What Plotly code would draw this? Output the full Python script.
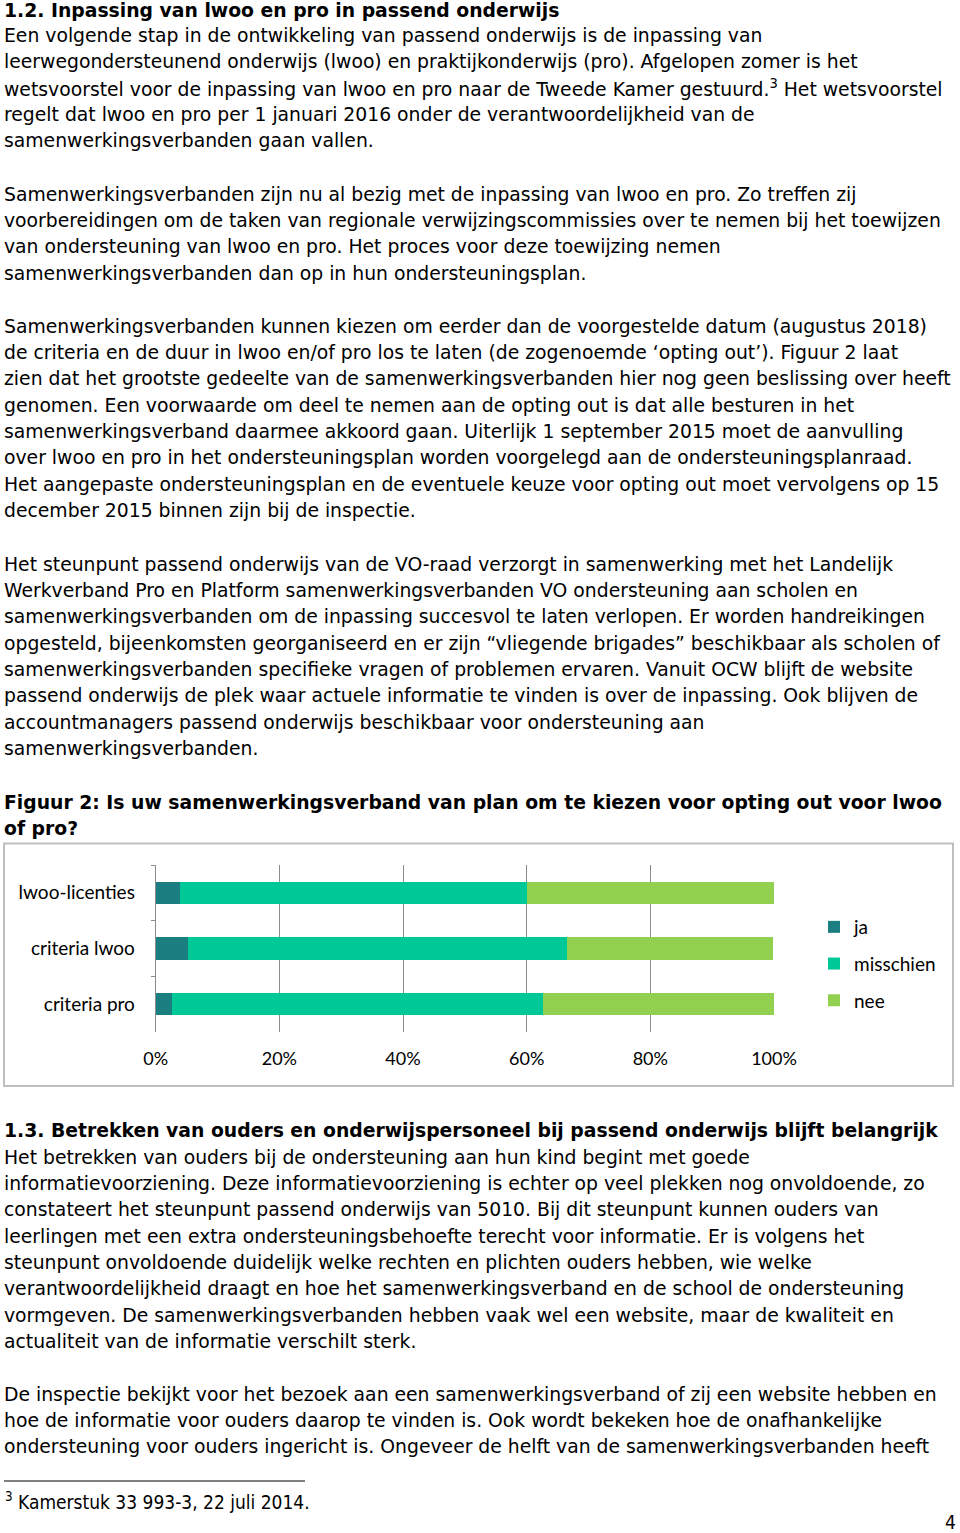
import plotly.graph_objects as go

W, H = 960, 1533

# chart data (share of samenwerkingsverbanden, n = 75)
categories = ["lwoo-licenties", "criteria lwoo", "criteria pro"]
ja = [0.040, 0.053, 0.027]
misschien = [0.560, 0.613, 0.600]
nee = [0.400, 0.333, 0.373]
series_names = ["ja", "misschien", "nee"]
series_colors = ["#1b7e80", "#00c896", "#92d050"]
x_ticks = [0, 0.2, 0.4, 0.6, 0.8, 1.0]
x_tick_labels = ["0%", "20%", "40%", "60%", "80%", "100%"]

# page text, blocks of (first line centre y, bold, lines)
block_top = [
    (10, True, ["1.2. Inpassing van lwoo en pro in passend onderwijs"]),
    (35.5, False, [
        "Een volgende stap in de ontwikkeling van passend onderwijs is de inpassing van",
        "leerwegondersteunend onderwijs (lwoo) en praktijkonderwijs (pro). Afgelopen zomer is het",
        "wetsvoorstel voor de inpassing van lwoo en pro naar de Tweede Kamer gestuurd.<sup>3</sup> Het wetsvoorstel",
        "regelt dat lwoo en pro per 1 januari 2016 onder de verantwoordelijkheid van de",
        "samenwerkingsverbanden gaan vallen.",
    ]),
    (194, False, [
        "Samenwerkingsverbanden zijn nu al bezig met de inpassing van lwoo en pro. Zo treffen zij",
        "voorbereidingen om de taken van regionale verwijzingscommissies over te nemen bij het toewijzen",
        "van ondersteuning van lwoo en pro. Het proces voor deze toewijzing nemen",
        "samenwerkingsverbanden dan op in hun ondersteuningsplan.",
    ]),
    (326, False, [
        "Samenwerkingsverbanden kunnen kiezen om eerder dan de voorgestelde datum (augustus 2018)",
        "de criteria en de duur in lwoo en/of pro los te laten (de zogenoemde \u2018opting out\u2019). Figuur 2 laat",
        "zien dat het grootste gedeelte van de samenwerkingsverbanden hier nog geen beslissing over heeft",
        "genomen. Een voorwaarde om deel te nemen aan de opting out is dat alle besturen in het",
        "samenwerkingsverband daarmee akkoord gaan. Uiterlijk 1 september 2015 moet de aanvulling",
        "over lwoo en pro in het ondersteuningsplan worden voorgelegd aan de ondersteuningsplanraad.",
        "Het aangepaste ondersteuningsplan en de eventuele keuze voor opting out moet vervolgens op 15",
        "december 2015 binnen zijn bij de inspectie.",
    ]),
    (564, False, [
        "Het steunpunt passend onderwijs van de VO-raad verzorgt in samenwerking met het Landelijk",
        "Werkverband Pro en Platform samenwerkingsverbanden VO ondersteuning aan scholen en",
        "samenwerkingsverbanden om de inpassing succesvol te laten verlopen. Er worden handreikingen",
        "opgesteld, bijeenkomsten georganiseerd en er zijn \u201cvliegende brigades\u201d beschikbaar als scholen of",
        "samenwerkingsverbanden specifieke vragen of problemen ervaren. Vanuit OCW blijft de website",
        "passend onderwijs de plek waar actuele informatie te vinden is over de inpassing. Ook blijven de",
        "accountmanagers passend onderwijs beschikbaar voor ondersteuning aan",
        "samenwerkingsverbanden.",
    ]),
    (802, True, [
        "Figuur 2: Is uw samenwerkingsverband van plan om te kiezen voor opting out voor lwoo",
        "of pro?",
    ]),
    (1130, True, ["1.3. Betrekken van ouders en onderwijspersoneel bij passend onderwijs blijft belangrijk"]),
    (1157, False, [
        "Het betrekken van ouders bij de ondersteuning aan hun kind begint met goede",
        "informatievoorziening. Deze informatievoorziening is echter op veel plekken nog onvoldoende, zo",
        "constateert het steunpunt passend onderwijs van 5010. Bij dit steunpunt kunnen ouders van",
        "leerlingen met een extra ondersteuningsbehoefte terecht voor informatie. Er is volgens het",
        "steunpunt onvoldoende duidelijk welke rechten en plichten ouders hebben, wie welke",
        "verantwoordelijkheid draagt en hoe het samenwerkingsverband en de school de ondersteuning",
        "vormgeven. De samenwerkingsverbanden hebben vaak wel een website, maar de kwaliteit en",
        "actualiteit van de informatie verschilt sterk.",
    ]),
    (1394, False, [
        "De inspectie bekijkt voor het bezoek aan een samenwerkingsverband of zij een website hebben en",
        "hoe de informatie voor ouders daarop te vinden is. Ook wordt bekeken hoe de onafhankelijke",
        "ondersteuning voor ouders ingericht is. Ongeveer de helft van de samenwerkingsverbanden heeft",
    ]),
]
footnote = "<sup>3</sup> Kamerstuk 33 993-3, 22 juli 2014."
page_number = "4"

LINE = 26.37


def px(x):
    return x / W


def py(y):
    return 1 - y / H


fig = go.Figure()
for name, vals, col in zip(series_names, [ja, misschien, nee], series_colors):
    fig.add_trace(go.Bar(
        y=categories, x=vals, name=name, orientation="h",
        marker=dict(color=col, line=dict(width=0)),
        legendgroup=name,
    ))

annotations = []
for y0, bold, lines in block_top:
    for i, t in enumerate(lines):
        annotations.append(dict(
            text="<b>%s</b>" % t if bold else t,
            x=px(2), y=py(y0 + i * LINE), xref="paper", yref="paper",
            xanchor="left", yanchor="middle", showarrow=False,
            font=dict(family="DejaVu Sans", size=18.8, color="#000000"),
        ))
annotations.append(dict(
    text=footnote, x=px(3), y=py(1501), xref="paper", yref="paper",
    xanchor="left", yanchor="middle", showarrow=False,
    font=dict(family="DejaVu Sans Condensed", size=19, color="#000000"),
))
annotations.append(dict(
    text=page_number, x=px(958), y=py(1522), xref="paper", yref="paper",
    xanchor="right", yanchor="middle", showarrow=False,
    font=dict(family="DejaVu Sans Condensed", size=19, color="#000000"),
))

shapes = [
    dict(type="rect", xref="paper", yref="paper",
         x0=px(4), x1=px(953), y0=py(843.5), y1=py(1086),
         line=dict(color="#bfbfbf", width=2), fillcolor="rgba(0,0,0,0)", layer="below"),
    dict(type="line", xref="paper", yref="paper",
         x0=px(4), x1=px(305), y0=py(1481), y1=py(1481),
         line=dict(color="#000000", width=1)),
]

fig.update_layout(
    width=W, height=H,
    margin=dict(l=0, r=0, t=0, b=0, autoexpand=False),
    paper_bgcolor="white", plot_bgcolor="white",
    barmode="stack", bargap=0.6,
    showlegend=True,
    legend=dict(
        x=px(814), y=py(964), xanchor="left", yanchor="middle",
        traceorder="grouped", tracegroupgap=9,
        font=dict(family="Lato", size=19, color="#000000"),
        bgcolor="rgba(0,0,0,0)",
    ),
    xaxis=dict(
        domain=[px(155.7), px(774)], range=[0, 1],
        tickvals=x_ticks, ticktext=x_tick_labels,
        showgrid=True, gridcolor="#8c8c8c", gridwidth=1,
        zeroline=False, showline=False, ticks="",
        tickfont=dict(family="Lato", size=18, color="#000000"),
        ticklabelstandoff=14, fixedrange=True,
    ),
    yaxis=dict(
        domain=[py(1032), py(865)],
        categoryorder="array", categoryarray=categories[::-1],
        showline=True, linecolor="#8c8c8c", linewidth=1,
        ticks="outside", ticklen=4, tickcolor="#8c8c8c", tickson="boundaries",
        tickfont=dict(family="Lato", size=19, color="#000000"),
        ticklabelstandoff=16, showgrid=False, fixedrange=True,
    ),
    annotations=annotations,
    shapes=shapes,
)

fig.write_html("out.html", config={"displayModeBar": False},
               post_script="document.body.style.margin = '0px';")
